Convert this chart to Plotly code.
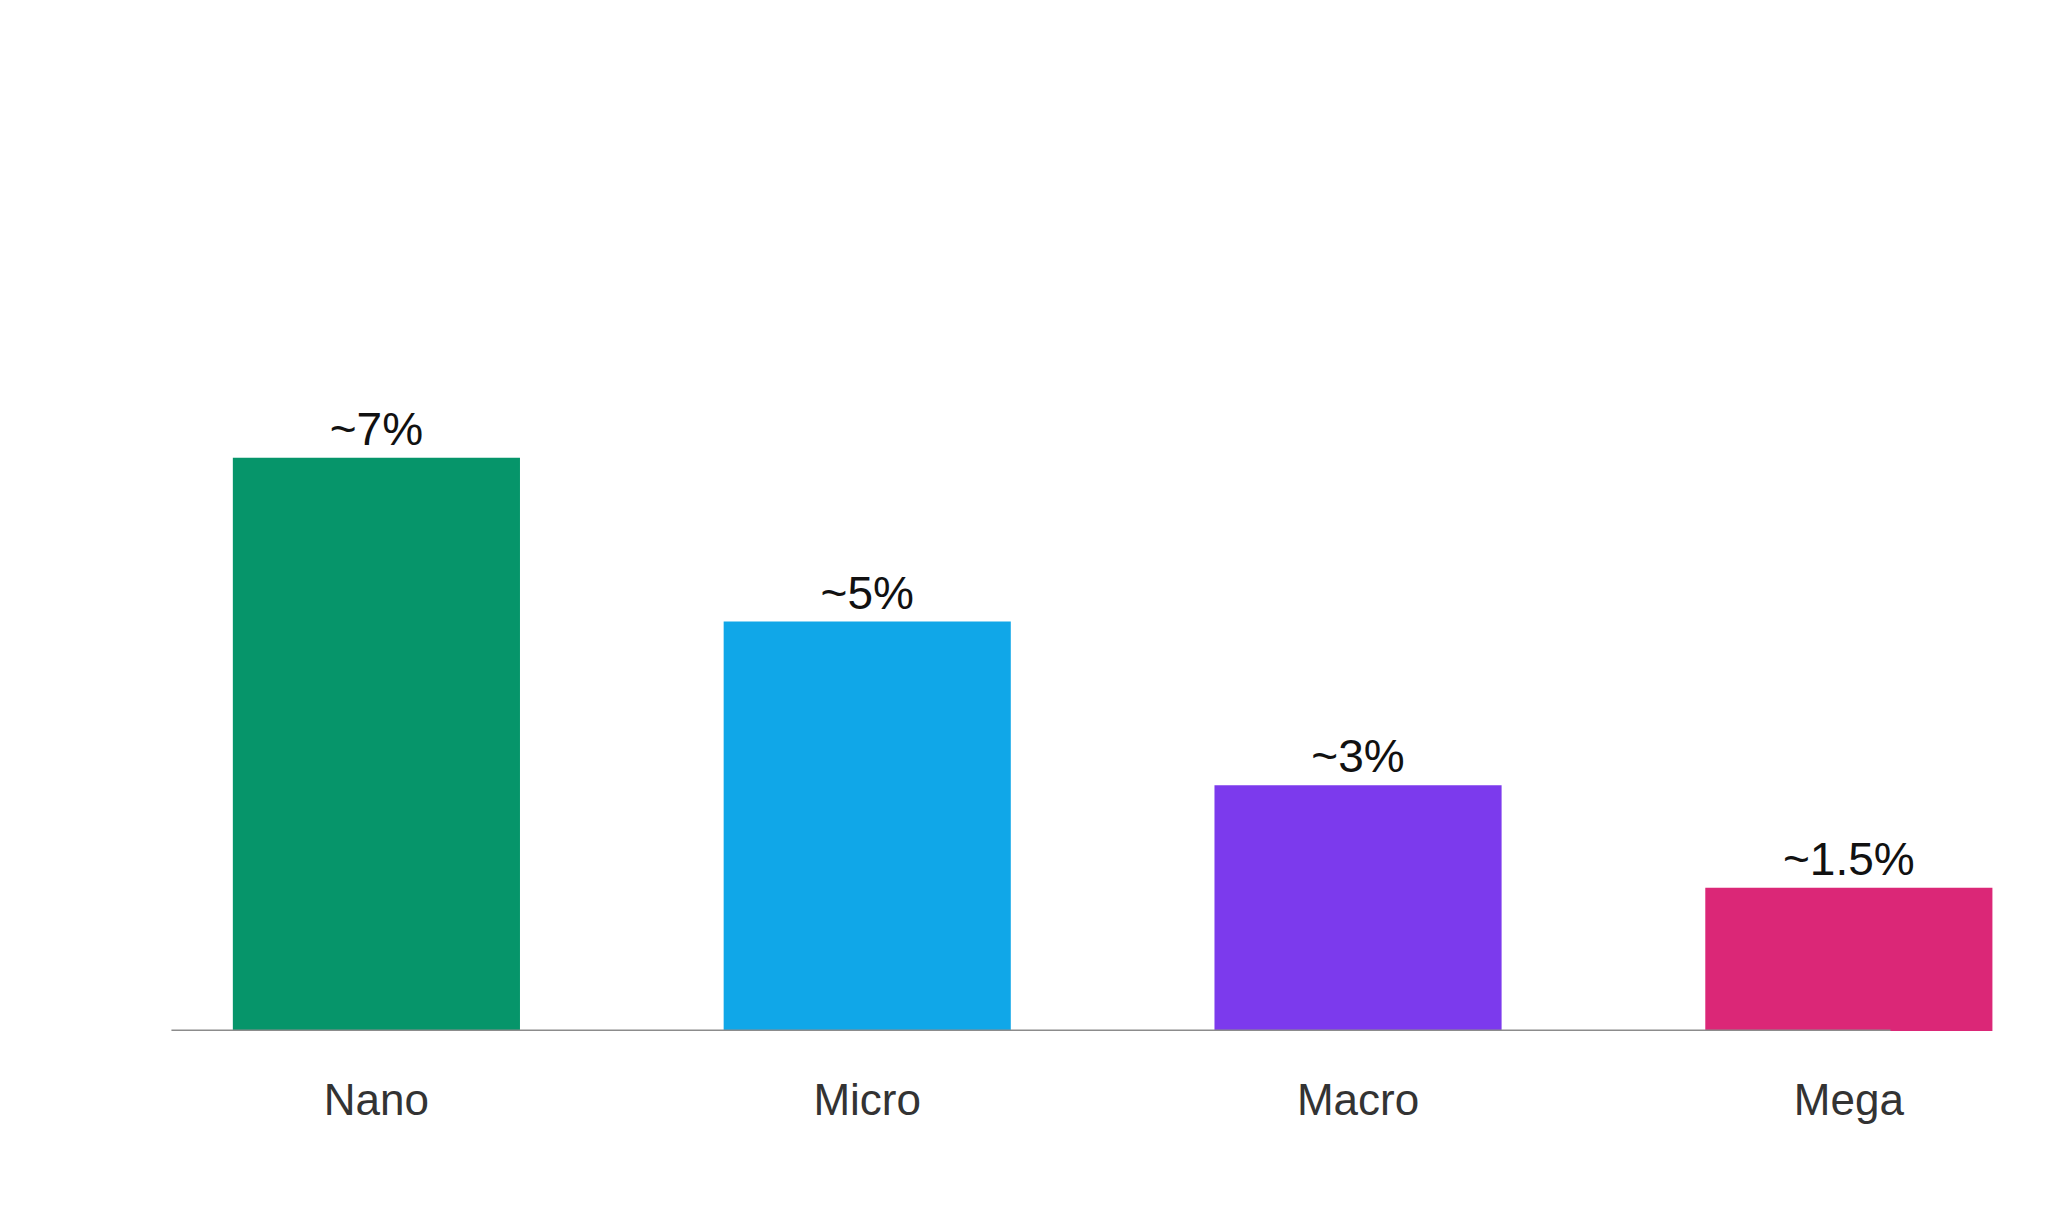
import plotly.graph_objects as go

categories = ["Nano", "Micro", "Macro", "Mega"]
values = [7, 5, 3, 1.75]
labels = ["~7%", "~5%", "~3%", "~1.5%"]
colors = ["#06956A", "#10A7E8", "#7C3AED", "#DB2777"]

fig = go.Figure(go.Bar(
    x=list(range(len(categories))), y=values, width=0.585,
    marker=dict(color=colors, line=dict(width=0)),
    text=labels, textposition="outside", cliponaxis=False,
    textfont=dict(size=46, color="#111111", family="Liberation Sans"),
))
fig.add_shape(type="line", xref="x", yref="y", x0=-0.4176, x1=3.085, y0=0, y1=0,
              line=dict(color="#8c8c8c", width=3), layer="above")
fig.update_layout(
    width=2047, height=1228, plot_bgcolor="white", paper_bgcolor="white",
    margin=dict(l=123, r=0, t=286, b=204.5), showlegend=False,
    font=dict(family="Liberation Sans"),
    xaxis=dict(range=[-0.5, 3.42], tickmode="array", tickvals=list(range(4)),
               ticktext=categories, showgrid=False, zeroline=False, showline=False,
               ticks="outside", ticklen=30, tickcolor="rgba(0,0,0,0)",
               tickfont=dict(size=44, color="#333333")),
    yaxis=dict(range=[0, 9], visible=False),
)
fig.write_html("out.html")
